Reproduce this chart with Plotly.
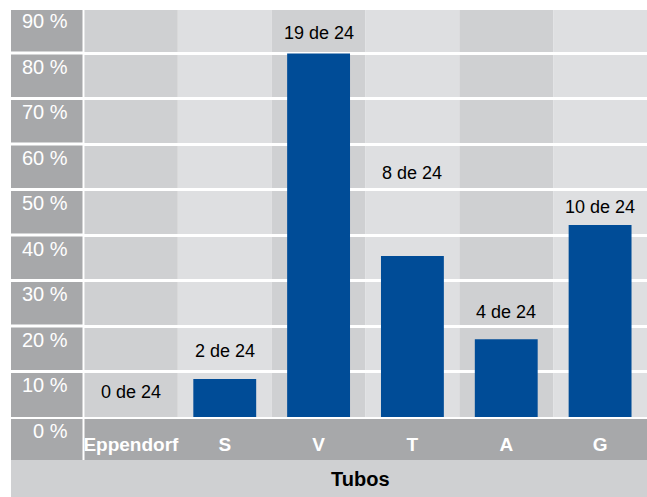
import plotly.graph_objects as go

# ---- data ----
categories = ["Eppendorf", "S", "V", "T", "A", "G"]
percent_values = [0, 8.35, 79.9, 35.4, 17.1, 42.2]
positive_counts = [0, 2, 19, 8, 4, 10]
total_tubes = 24
label_heights = [5.4, 14.5, 84.3, 53.7, 23.1, 46.2]
y_ticks = [0, 10, 20, 30, 40, 50, 60, 70, 80, 90]
y_tick_labels = ["0 %", "10 %", "20 %", "30 %", "40 %", "50 %", "60 %", "70 %", "80 %", "90 %"]
x_title = "Tubos"

# ---- style ----
W, H = 647, 497
ML, MR, MT, MB = 84, 0, 10, 80
PW, PH = W - ML - MR, H - MT - MB
Y_MAX = 89.45
FONT = "Liberation Sans, Arial, Helvetica, sans-serif"
BLUE = "#004c97"
DARK = "#a7a8aa"
BAND_DARK = "#cfd0d2"
BAND_LIGHT = "#dedfe1"


def px_x(px):
    return (px - ML) / PW


def px_y(py):
    return (H - MB - py) / PH


fig = go.Figure()
fig.add_trace(go.Bar(
    x=categories, y=percent_values, width=0.67,
    marker=dict(color=BLUE, line=dict(width=0)),
    hoverinfo="skip", showlegend=False,
))

shapes = []
# left dark column (above zero) and zero cell
shapes.append(dict(type="rect", xref="paper", yref="paper", x0=px_x(11), x1=px_x(82.5),
                   y0=0, y1=1, fillcolor=DARK, line=dict(width=0), layer="below"))
shapes.append(dict(type="rect", xref="paper", yref="paper", x0=px_x(11), x1=px_x(82.5),
                   y0=px_y(460), y1=px_y(419), fillcolor=DARK, line=dict(width=0), layer="below"))
# white lines across left column
for t in y_ticks[1:-1]:
    shapes.append(dict(type="line", xref="paper", yref="y", x0=px_x(11), x1=0,
                       y0=t, y1=t, line=dict(color="white", width=3), layer="below"))
# bottom dark band for category labels
shapes.append(dict(type="rect", xref="paper", yref="paper", x0=px_x(84.5), x1=1,
                   y0=px_y(460), y1=px_y(419), fillcolor=DARK, line=dict(width=0), layer="below"))
# title band
shapes.append(dict(type="rect", xref="paper", yref="paper", x0=px_x(11), x1=1,
                   y0=px_y(497), y1=px_y(460), fillcolor=BAND_DARK, line=dict(width=0), layer="below"))
# alternating category bands
for i, c in enumerate(categories):
    shapes.append(dict(type="rect", xref="x", yref="paper", x0=i - 0.5 + (0.005 if i == 0 else 0),
                       x1=i + 0.5, y0=0, y1=1,
                       fillcolor=BAND_DARK if i % 2 == 0 else BAND_LIGHT,
                       line=dict(width=0), layer="below"))

annotations = []
for t, lab in zip(y_ticks, y_tick_labels):
    annotations.append(dict(text=lab, xref="paper", yref="paper", x=px_x(70), y=t / Y_MAX,
                            xanchor="right", yanchor="middle", yshift=-14, showarrow=False,
                            font=dict(family=FONT, size=20, color="white")))
for c, n, ly in zip(categories, positive_counts, label_heights):
    annotations.append(dict(text=f"{n} de {total_tubes}", xref="x", yref="y", x=c, y=ly,
                            xanchor="center", yanchor="middle", showarrow=False,
                            font=dict(family=FONT, size=18, color="black")))
annotations.append(dict(text=f"<b>{x_title}</b>", xref="paper", yref="paper",
                        x=px_x(360), y=px_y(479), xanchor="center", yanchor="middle",
                        showarrow=False, font=dict(family=FONT, size=20, color="black")))

fig.update_layout(
    width=W, height=H,
    margin=dict(l=ML, r=MR, t=MT, b=MB, pad=0),
    paper_bgcolor="white", plot_bgcolor="rgba(0,0,0,0)",
    bargap=0.33,
    shapes=shapes, annotations=annotations,
    xaxis=dict(type="category", range=[-0.5, 5.5], showgrid=False, zeroline=False,
               showline=False, ticks="outside", ticklen=10, tickcolor="rgba(0,0,0,0)",
               tickfont=dict(family=FONT, size=19, color="white", weight="bold")),
    yaxis=dict(range=[0, Y_MAX], dtick=10, tick0=0, showgrid=True, gridcolor="white",
               gridwidth=3, zeroline=False, showline=False, showticklabels=False, ticks=""),
)

fig.write_html("out.html")
